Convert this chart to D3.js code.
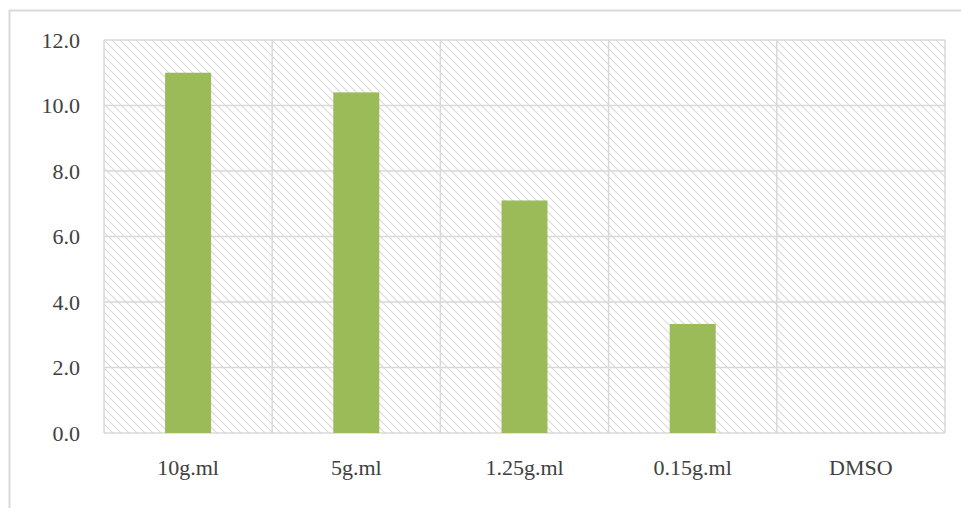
<!DOCTYPE html>
<html><head><meta charset="utf-8">
<script src="https://cdn.jsdelivr.net/npm/d3@7/dist/d3.min.js"></script>
<style>body{margin:0;background:#fff;}svg{display:block;}</style>
</head><body>
<script>
const categories = ["10g.ml", "5g.ml", "1.25g.ml", "0.15g.ml", "DMSO"];
const values = [11.0, 10.4, 7.1, 3.33, 0];
const yTicks = [0, 2, 4, 6, 8, 10, 12];

const W = 961, H = 508;
const m = {left: 104, top: 40, right: 945, bottom: 433};
const svg = d3.select("body").append("svg").attr("width", W).attr("height", H);

const defs = svg.append("defs");
const pat = defs.append("pattern").attr("id", "hatch").attr("patternUnits", "userSpaceOnUse")
  .attr("width", 8).attr("height", 8);
pat.append("rect").attr("width", 8).attr("height", 8).attr("fill", "#fff");
pat.append("path").attr("d", "M-2,-2 L10,10 M-2,6 L2,10 M6,-2 L10,2")
  .attr("stroke", "#dadada").attr("stroke-width", 1.1);

// outer border
svg.append("rect").attr("x", 9.5).attr("y", 10.5).attr("width", 960).attr("height", 520)
  .attr("fill", "none").attr("stroke", "#d9d9d9").attr("stroke-width", 2);

const x = d3.scaleBand().domain(categories).range([m.left, m.right]).paddingInner(0).paddingOuter(0);
const y = d3.scaleLinear().domain([0, 12]).range([m.bottom, m.top]);

svg.append("rect").attr("x", m.left).attr("y", m.top).attr("width", m.right - m.left)
  .attr("height", m.bottom - m.top).attr("fill", "url(#hatch)");

// horizontal grid
svg.append("g").selectAll("line").data(yTicks).join("line")
  .attr("x1", m.left).attr("x2", m.right).attr("y1", d => y(d)).attr("y2", d => y(d))
  .attr("stroke", "#d9d9d9").attr("stroke-width", 1.5);
// vertical grid
svg.append("g").selectAll("line").data(categories).join("line")
  .attr("x1", d => x(d)).attr("x2", d => x(d)).attr("y1", m.top).attr("y2", m.bottom)
  .attr("stroke", "#d9d9d9").attr("stroke-width", 1.5);
svg.append("line").attr("x1", m.right).attr("x2", m.right).attr("y1", m.top).attr("y2", m.bottom)
  .attr("stroke", "#d9d9d9").attr("stroke-width", 1.5);

// bars
const bw = 46;
svg.append("g").selectAll("rect").data(values).join("rect")
  .attr("x", (d, i) => x(categories[i]) + x.bandwidth() / 2 - bw / 2)
  .attr("width", bw)
  .attr("y", d => y(d)).attr("height", d => y(0) - y(d))
  .attr("fill", "#9bbb59");

const font = "'Liberation Serif', 'Times New Roman', serif";
// y axis labels
const yAxis = d3.axisLeft(y).tickValues(yTicks).tickFormat(d3.format(".1f")).tickSize(0).tickPadding(24);
const ya = svg.append("g").attr("transform", `translate(${m.left},0)`).call(yAxis);
ya.select(".domain").remove();
ya.selectAll("text").attr("font-family", font).attr("font-size", 22).attr("fill", "#404040");

// x axis labels
const xAxis = d3.axisBottom(x).tickSize(0).tickPadding(26);
const xa = svg.append("g").attr("transform", `translate(0,${m.bottom})`).call(xAxis);
xa.select(".domain").remove();
xa.selectAll("text").attr("font-family", font).attr("font-size", 22).attr("fill", "#404040");
</script>
</body></html>
